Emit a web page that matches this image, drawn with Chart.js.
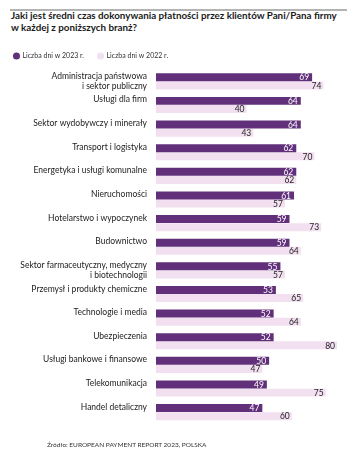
<!DOCTYPE html>
<html>
<head>
<meta charset="utf-8">
<script src="https://cdn.jsdelivr.net/npm/chart.js@4/dist/chart.umd.min.js"></script>
<style>
  html, body { margin: 0; padding: 0; background: #fff; }
  body { width: 360px; height: 457px; position: relative; overflow: hidden; font-family: Lato, "Noto Sans", sans-serif; }
  #rule { position: absolute; left: 10px; top: 9px; width: 337px; height: 1.5px; background: #b3b3b3; }
  #title { position: absolute; left: 11px; top: 10px; width: 345px; font-weight: 700; font-size: 9.8px; line-height: 11.6px; color: #1a1a1a; }
  #footer { position: absolute; left: 47px; top: 441px; font-size: 6.5px; color: #333; }
  #wrap { position: absolute; left: 0; top: 0; width: 360px; height: 457px; }
</style>
</head>
<body>
<div id="rule"></div>
<div id="title">Jaki jest średni czas dokonywania płatności przez klientów Pani/Pana firmy<br>w każdej z poniższych branż?</div>
<div id="wrap"><canvas id="c"></canvas></div>
<div id="footer">Źródło: EUROPEAN PAYMENT REPORT 2023, POLSKA</div>
<script>
const categories = [
  ['Administracja państwowa', 'i sektor publiczny'],
  ['Usługi dla firm', ''],
  ['Sektor wydobywczy i minerały', ''],
  ['Transport i logistyka', ''],
  ['Energetyka i usługi komunalne', ''],
  ['Nieruchomości', ''],
  ['Hotelarstwo i wypoczynek', ''],
  ['Budownictwo', ''],
  ['Sektor farmaceutyczny, medyczny', 'i biotechnologii'],
  ['Przemysł i produkty chemiczne', ''],
  ['Technologie i media', ''],
  ['Ubezpieczenia', ''],
  ['Usługi bankowe i finansowe', ''],
  ['Telekomunikacja', ''],
  ['Handel detaliczny', '']
];
const days2023 = [69, 64, 64, 62, 62, 61, 59, 59, 55, 53, 52, 52, 50, 49, 47];
const days2022 = [74, 40, 43, 70, 62, 57, 73, 64, 57, 65, 64, 80, 47, 75, 60];
const seriesLabels = ['Liczba dni w 2023 r.', 'Liczba dni w 2022 r.'];

const DARK = '#62307a';
const LIGHT = '#f2dff0';

const valueLabels = {
  id: 'valueLabels',
  afterDatasetsDraw(chart) {
    const ctx = chart.ctx;
    ctx.save();
    ctx.font = '400 8.5px Lato, "Noto Sans", sans-serif';
    ctx.textAlign = 'right';
    ctx.textBaseline = 'middle';
    chart.data.datasets.forEach((ds, di) => {
      const meta = chart.getDatasetMeta(di);
      meta.data.forEach((bar, i) => {
        ctx.fillStyle = di === 0 ? '#ffffff' : '#222222';
        ctx.fillText(String(ds.data[i]), bar.x - (di === 0 ? 3 : 2), bar.y + 0.5);
      });
    });
    ctx.restore();
  }
};

new Chart(document.getElementById('c'), {
  type: 'bar',
  data: {
    labels: categories,
    datasets: [
      { label: seriesLabels[0], data: days2023, backgroundColor: DARK, borderWidth: 0 },
      { label: seriesLabels[1], data: days2022, backgroundColor: LIGHT, borderWidth: 0 }
    ]
  },
  options: {
    indexAxis: 'y',
    responsive: true,
    maintainAspectRatio: false,
    animation: false,
    layout: { padding: { left: 0, right: 23, top: 38.5, bottom: 33 } },
    datasets: { bar: { categoryPercentage: 0.69, barPercentage: 0.98 } },
    scales: {
      x: { display: false, min: 0, max: 80 },
      y: {
        grid: { display: false, drawTicks: false },
        border: { display: false },
        ticks: {
          autoSkip: false,
          padding: 9,
          color: '#222',
          font: { family: 'Lato, "Noto Sans", sans-serif', size: 8.5, lineHeight: 1.22 }
        },
        afterFit(scale) { scale.width = 156; }
      }
    },
    plugins: {
      legend: {
        display: true,
        position: 'top',
        align: 'start',
        labels: {
          usePointStyle: true,
          pointStyle: 'circle',
          boxWidth: 5,
          boxHeight: 5,
          padding: 14,
          color: '#333',
          font: { family: 'Lato, "Noto Sans", sans-serif', size: 7 }
        }
      },
      title: { display: false },
      tooltip: { enabled: false }
    }
  },
  plugins: [valueLabels]
});
</script>
</body>
</html>
